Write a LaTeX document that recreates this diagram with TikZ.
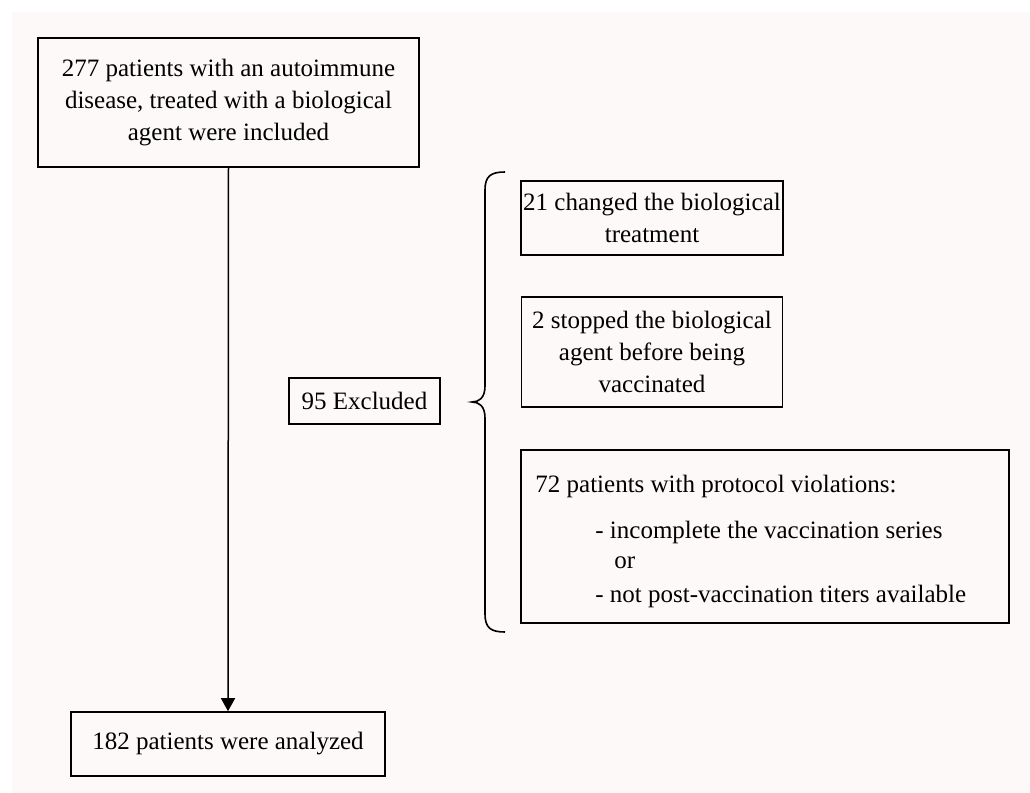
\documentclass[tikz,border=0pt]{standalone}
\usepackage{fontspec}
\setmainfont{Liberation Serif}
\usetikzlibrary{arrows.meta}
\definecolor{paper}{HTML}{FCF9F8}
\tikzset{
  box/.style={draw, line width=0.8pt, inner sep=0pt, font=\fontsize{12.5}{16}\selectfont, align=center},
  line/.style={anchor=base west, inner sep=0pt, font=\fontsize{12.5}{16}\selectfont},
  flow/.style={line width=0.75pt, -{Triangle[width=7pt,length=6.5pt]}}
}
\begin{document}
\begin{tikzpicture}[x=0.5pt,y=-0.5pt]
\useasboundingbox (0,0) rectangle (1030,793);
\fill[paper] (12,12) rectangle (1030,793);
\node[box, minimum width=190.5pt, minimum height=64.5pt] (incl) at (228.5,102.5)
  {277 patients with an autoimmune\\disease, treated with a biological\\agent were included};
\node[box, minimum width=157pt, minimum height=32pt] (anal) at (228,744) {182 patients were analyzed};
\node[box, minimum width=75.5pt, minimum height=23pt] (excl) at (364.5,401) {95 Excluded};
\node[box, minimum width=131pt, minimum height=37pt] (chg) at (652,218)
  {21 changed the biological\\treatment};
\node[box, minimum width=130.5pt, minimum height=55pt] (stop) at (652,352)
  {2 stopped the biological\\agent before being\\vaccinated};
\node[box, minimum width=244pt, minimum height=86.5pt] (viol) at (765,536.5) {};
\node[line] (violhead) at (535,492) {72 patients with protocol violations:};
\node[line] (viola) at (595,538) {- incomplete the vaccination series};
\node[line] (violor) at (614,568) {or};
\node[line] (violb) at (595,602) {- not post-vaccination titers available};
\draw[line width=0.8pt] (505,172) .. controls (491,172) and (485,176) .. (485,190) -- (485,386)
  .. controls (485,398) and (479,402) .. (472,402) .. controls (479,402) and (485,406) .. (485,418)
  -- (485,614) .. controls (485,628) and (491,632) .. (505,632);
\draw[flow] (incl.south) -- (anal.north);
\end{tikzpicture}
\end{document}
